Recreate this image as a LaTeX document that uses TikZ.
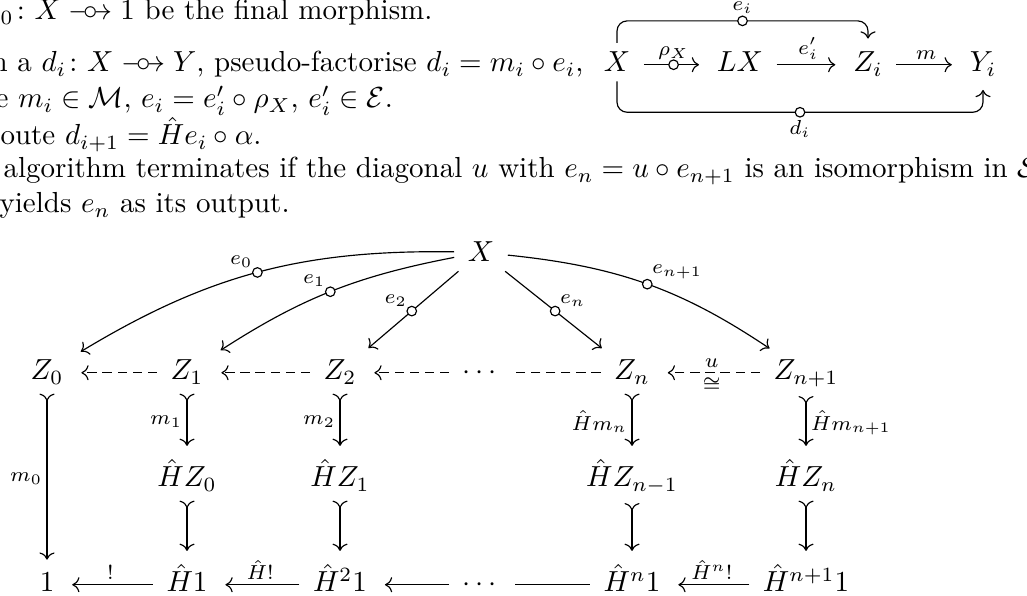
\documentclass[tikz,border=0pt]{standalone}
\usepackage{amsmath,amssymb}
\usepackage{tikz}
\usetikzlibrary{arrows.meta}

\newcommand{\pto}{\mathrel{\mbox{\ooalign{$\relbar\mkern-5mu\rightarrow$\cr
  \hfil$\color{white}\bullet$\hfil\cr\hfil$\circ$\hfil\cr}}}}

\tikzset{
  obj/.style={anchor=base, inner xsep=4.5pt, inner ysep=3pt},
  txt/.style={anchor=base west, inner sep=0pt},
  lbl/.style={font=\scriptsize, inner sep=1.5pt},
  ring/.style={circle, draw, fill=white, inner sep=0pt, minimum size=3.3pt},
  arr/.style={-{Computer Modern Rightarrow}, shorten >=1.5pt},
  mono/.style={{Computer Modern Rightarrow[reversed]}-{Computer Modern Rightarrow}, shorten >=1.5pt},
  dashline/.style={dash pattern=on 3.2pt off 2pt},
}

\begin{document}
\begin{tikzpicture}[x=0.3448pt, y=0.3448pt]
  \useasboundingbox (0,0) rectangle (1027,-596);

  % the text lines
  \node[txt] (t1) at (0,-20) {${}_0\colon X \pto 1$ be the final morphism.};
  \node[txt] (t2) at (-9,-72) {n a $d_i\colon X \pto Y$, pseudo-factorise $d_i = m_i \circ e_i$,};
  \node[txt] (t3) at (-5,-108) {e $m_i \in \mathcal{M}$, $e_i = e'_i \circ \rho_X$, $e'_i \in \mathcal{E}$.};
  \node[txt] (t4) at (0,-145) {oute $d_{i+1} = \hat{H} e_i \circ \alpha$.};
  \node[txt] (t5) at (3,-178) {algorithm terminates if the diagonal $u$ with $e_n = u \circ e_{n+1}$ is an isomorphism in $\mathcal{S}$};
  \node[txt] (t6) at (-1,-213) {yields $e_n$ as its output.};

  % small factorisation diagram
  \node[obj] (sx) at (617,-72) {$X$};
  \node[obj] (slx) at (740,-72) {$LX$};
  \node[obj] (szi) at (868,-72) {$Z_i$};
  \node[obj] (syi) at (983,-72) {$Y_i$};
  \draw[arr] ([yshift=2.5pt]sx.base east) -- node[ring]{} node[lbl, above]{$\rho_X$} ([yshift=2.5pt]slx.base west);
  \draw[arr] ([yshift=2.5pt]slx.base east) -- node[lbl, above]{$e'_i$} ([yshift=2.5pt]szi.base west);
  \draw[arr] ([yshift=2.5pt]szi.base east) -- node[lbl, above]{$m$} ([yshift=2.5pt]syi.base west);
  \draw[arr, rounded corners=3.5pt] (sx.north) -- ++(0,22) -| node[ring, pos=.25]{} node[lbl, above=1pt, pos=.25]{$e_i$} (szi.north);
  \draw[arr, rounded corners=3.5pt] (sx.south) -- ++(0,-31) -| node[ring, pos=.25]{} node[lbl, below=1pt, pos=.25]{$d_i$} (syi.south);

  % the iteration
  \node[obj] (x) at (481,-262) {$X$};
  \node[obj] (z0) at (47,-380) {$Z_0$};
  \node[obj] (z1) at (187,-380) {$Z_1$};
  \node[obj] (z2) at (340,-380) {$Z_2$};
  \node[obj] (zdots) at (482,-380) {$\cdots$};
  \node[obj] (zn) at (632,-380) {$Z_n$};
  \node[obj] (zm) at (806,-380) {$Z_{n+1}$};
  \node[obj] (hz0) at (187,-487) {$\hat{H}Z_0$};
  \node[obj] (hz1) at (340,-487) {$\hat{H}Z_1$};
  \node[obj] (hzn) at (632,-487) {$\hat{H}Z_{n-1}$};
  \node[obj] (hzm) at (806,-487) {$\hat{H}Z_n$};
  \node[obj] (one) at (47,-592) {$1$};
  \node[obj] (h1) at (187,-592) {$\hat{H}1$};
  \node[obj] (h21) at (340,-592) {$\hat{H}^2 1$};
  \node[obj] (hdots) at (482,-592) {$\cdots$};
  \node[obj] (hn1) at (632,-592) {$\hat{H}^n 1$};
  \node[obj] (hm1) at (806,-592) {$\hat{H}^{n+1} 1$};

  \draw[arr] (x) to[bend right=16] node[ring]{} node[lbl, auto, swap]{$e_0$} (z0);
  \draw[arr] (x) to[bend right=11] node[ring]{} node[lbl, auto, swap]{$e_1$} (z1);
  \draw[arr] (x) -- node[ring]{} node[lbl, auto, swap]{$e_2$} (z2);
  \draw[arr] (x) -- node[ring]{} node[lbl, auto]{$e_n$} (zn);
  \draw[arr] (x) to[bend left=14] node[ring]{} node[lbl, auto]{$e_{n+1}$} (zm);

  \draw[arr, dashline] ([yshift=2.5pt]z1.base west) -- ([yshift=2.5pt]z0.base east);
  \draw[arr, dashline] ([yshift=2.5pt]z2.base west) -- ([yshift=2.5pt]z1.base east);
  \draw[arr, dashline] ([yshift=2.5pt]zdots.base west) -- ([yshift=2.5pt]z2.base east);
  \draw[dashline] ([yshift=2.5pt]zn.base west) -- ([yshift=2.5pt]zdots.base east);
  \draw[arr, dashline] ([yshift=2.5pt]zm.base west) -- node[lbl, above]{$u$} node[lbl, below]{$\cong$} ([yshift=2.5pt]zn.base east);

  \draw[mono] (z0) -- node[lbl, left]{$m_0$} (one);
  \draw[mono] (z1) -- node[lbl, left]{$m_1$} (hz0);
  \draw[mono] (z2) -- node[lbl, left]{$m_2$} (hz1);
  \draw[mono] (zn) -- node[lbl, left]{$\hat{H}m_n$} (hzn);
  \draw[mono] (zm) -- node[lbl, right]{$\hat{H}m_{n+1}$} (hzm);
  \draw[mono] (hz0) -- (h1);
  \draw[mono] (hz1) -- (h21);
  \draw[mono] (hzn) -- (hn1);
  \draw[mono] (hzm) -- (hm1);

  \draw[arr] ([yshift=2.5pt]h1.base west) -- node[lbl, above]{$!$} ([yshift=2.5pt]one.base east);
  \draw[arr] ([yshift=2.5pt]h21.base west) -- node[lbl, above]{$\hat{H}!$} ([yshift=2.5pt]h1.base east);
  \draw[arr] ([yshift=2.5pt]hdots.base west) -- ([yshift=2.5pt]h21.base east);
  \draw ([yshift=2.5pt]hn1.base west) -- ([yshift=2.5pt]hdots.base east);
  \draw[arr] ([yshift=2.5pt]hm1.base west) -- node[lbl, above]{$\hat{H}^n!$} ([yshift=2.5pt]hn1.base east);
\end{tikzpicture}
\end{document}
